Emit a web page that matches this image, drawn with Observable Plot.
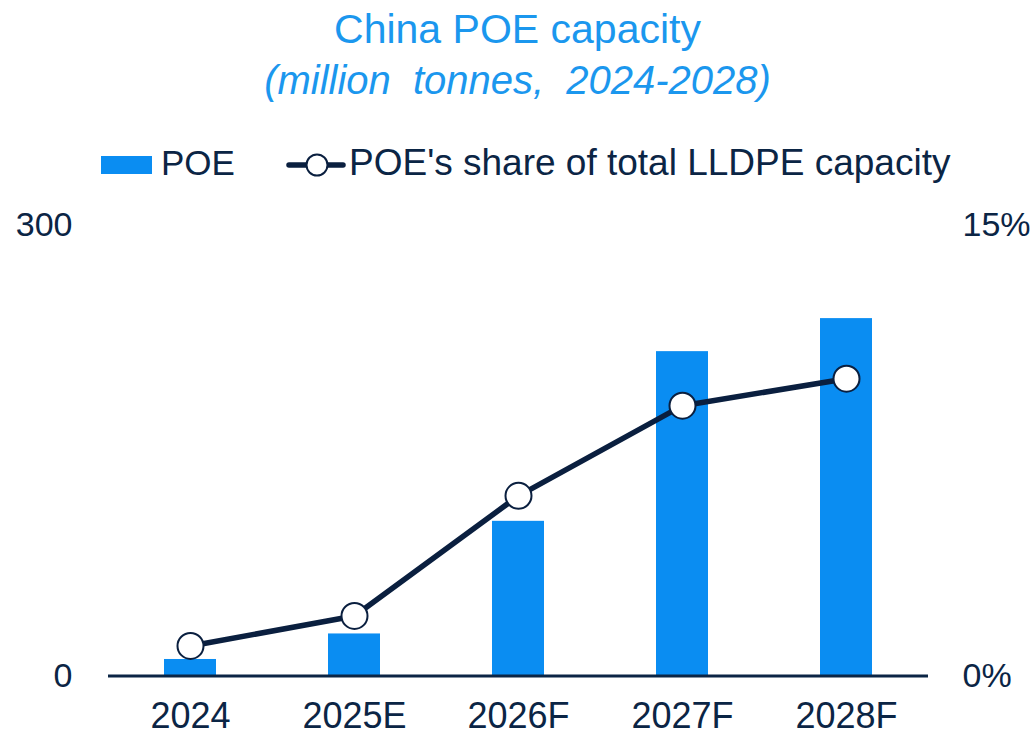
<!DOCTYPE html>
<html><head><meta charset="utf-8">
<script src="https://cdn.jsdelivr.net/npm/d3@7"></script>
<script src="https://cdn.jsdelivr.net/npm/@observablehq/plot@0.6"></script>
<style>
html,body{margin:0;padding:0;background:#fff;overflow:hidden;}
#wrap{position:relative;width:1035px;height:735px;font-family:"Liberation Sans",Arial,sans-serif;color:#0B2545;}
.title{position:absolute;left:0;width:1035px;text-align:center;color:#1B97EE;white-space:nowrap;}
.leg{position:absolute;white-space:nowrap;}
#chart{position:absolute;left:0;top:190px;}
</style>
</head><body>
<div id="wrap">
  <div class="title" style="top:9px;font-size:41px;line-height:41px;">China POE capacity</div>
  <div class="title" style="top:60px;font-size:40px;line-height:40px;font-style:italic;word-spacing:11px;">(million tonnes, 2024-2028)</div>
  <div class="leg" style="left:101px;top:156px;width:51px;height:18px;background:#0A8DF2;"></div>
  <div class="leg" style="left:161px;top:145px;font-size:35px;line-height:35px;">POE</div>
  <svg class="leg" style="left:286px;top:153px;" width="60" height="26">
    <line x1="3" y1="12" x2="57" y2="12" stroke="#0A1F3F" stroke-width="5.5" stroke-linecap="round"></line>
    <circle cx="31" cy="12" r="10.5" fill="#fff" stroke="#0A1F3F" stroke-width="2"></circle>
  </svg>
  <div class="leg" style="left:349px;top:144px;font-size:37px;line-height:37px;">POE's share of total LLDPE capacity</div>
  <div id="chart"></div>
</div>
<script>
const categories = ["2024", "2025E", "2026F", "2027F", "2028F"];
const poeCapacity = [11, 28, 103, 216, 238];
const shareLLDPE = [1.0, 2.0, 6.0, 9.0, 9.9];
const leftTicks = [0, 300];
const rightTicks = [0, 15];

const k = leftTicks[1] / rightTicks[1];
const data = categories.map((c, i) => ({cat: c, poe: poeCapacity[i], share: shareLLDPE[i]}));
const navy = "#0A1F3F";

const chart = Plot.plot({
  width: 1035,
  height: 545,
  marginTop: 35,
  marginBottom: 59.5,
  marginLeft: 108,
  marginRight: 107,
  style: {fontSize: "34px", fontFamily: "'Liberation Sans', Arial, sans-serif", color: "#0B2545", background: "transparent", overflow: "visible"},
  x: {domain: categories, paddingInner: 0.68, paddingOuter: 0.34, label: null},
  y: {domain: [0, 300], label: null},
  marks: [
    Plot.barY(data, {x: "cat", y: "poe", fill: "#0A8DF2"}),
    Plot.ruleY([0], {stroke: "#0B2545", strokeWidth: 3}),
    Plot.line(data, {x: "cat", y: d => d.share * k, stroke: navy, strokeWidth: 5.5}),
    Plot.dot(data, {x: "cat", y: d => d.share * k, r: 13, fill: "white", stroke: navy, strokeWidth: 2}),
    Plot.axisX({tickSize: 0, tickPadding: 26, label: null, fontSize: 36}),
    Plot.axisY(leftTicks, {anchor: "left", tickSize: 0, tickPadding: 36, label: null}),
    Plot.axisY(rightTicks.map(v => v * k), {anchor: "right", tickSize: 0, tickPadding: 34, tickFormat: d => (d / k) + "%", label: null})
  ]
});
document.getElementById("chart").appendChild(chart);
</script>
</body></html>
